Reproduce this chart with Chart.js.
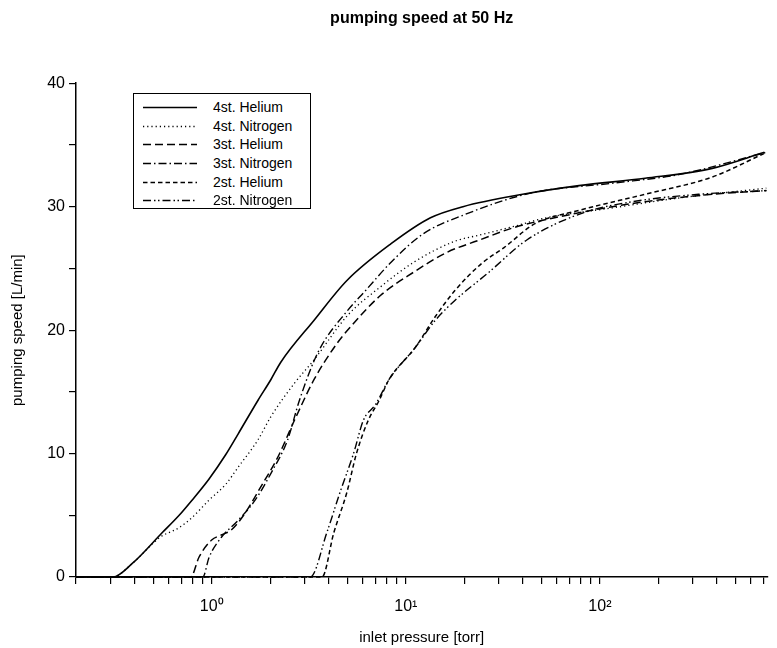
<!DOCTYPE html>
<html>
<head>
<meta charset="utf-8">
<script src="https://cdn.jsdelivr.net/npm/chart.js@4.4.1/dist/chart.umd.min.js"></script>
<style>
  body { margin: 0; background: #fff; }
  #wrap { position: relative; width: 777px; height: 648px; }
  #legend {
    position: absolute; left: 133px; top: 93px; width: 178px; height: 116px;
    border: 1.5px solid #000; background: #fff;
    font-family: "Liberation Sans", Arial, sans-serif; font-size: 14px; color: #000;
    padding-top: 4px; box-sizing: border-box;
  }
  .row { position: relative; height: 18.7px; line-height: 18.7px; }
  .row svg { position: absolute; left: 9px; top: 0; }
  .row span { position: absolute; left: 79px; top: 0; }
</style>
</head>
<body>
<div id="wrap">
  <canvas id="speedChart" width="777" height="648"></canvas>
  <div id="legend"></div>
</div>
<script>
// x range of the pressure axis (torr)
const xMin = 0.2;
const xMax = 729;

const seriesNames = ['4st. Helium', '4st. Nitrogen', '3st. Helium', '3st. Nitrogen', '2st. Helium', '2st. Nitrogen'];

// 4st Helium
const he4P = [0.2, 0.31, 0.39, 0.557, 0.68, 0.79, 0.965, 1.18, 1.37, 1.73, 2.02, 2.27, 3.37, 4.96, 8.4, 13.4, 19.7, 40, 78, 171, 379, 704];
const he4S = [0, 0, 1.1, 3.6, 5.0, 6.2, 7.9, 9.9, 11.6, 14.3, 16.0, 17.4, 20.8, 24.0, 27.0, 29.1, 30.0, 31.0, 31.7, 32.3, 33.1, 34.4];
// 4st Nitrogen
const n4P = [0.2, 0.31, 0.39, 0.54, 0.68, 0.79, 0.965, 1.18, 1.37, 1.73, 2.02, 2.67, 3.37, 5.02, 7.4, 11.0, 17.9, 24, 36, 53, 116, 255, 720];
const n4S = [0, 0, 1.1, 3.2, 4.0, 4.8, 6.2, 7.5, 8.9, 11.1, 13.0, 15.7, 17.6, 21.2, 23.5, 25.5, 27.2, 27.7, 28.4, 29.1, 29.9, 30.7, 31.5];
// 3st Helium
const he3P = [0.2, 0.78, 0.86, 1.0, 1.12, 1.26, 1.49, 1.79, 2.19, 2.67, 3.37, 4.41, 5.02, 7.4, 11.0, 16.3, 24, 36, 78, 171, 379, 720];
const he3S = [0, 0, 1.6, 3.0, 3.4, 3.8, 5.2, 7.3, 9.7, 12.7, 16.0, 18.9, 20.0, 22.8, 24.7, 26.3, 27.3, 28.3, 29.5, 30.4, 31.0, 31.3];
// 3st Nitrogen
const n3P = [0.2, 0.9, 0.97, 1.12, 1.37, 1.67, 2.02, 2.46, 2.83, 3.53, 5.02, 6.12, 8.4, 12.3, 19.7, 44, 116, 255, 720];
const n3S = [0, 0, 1.6, 3.2, 4.6, 6.2, 8.4, 11.1, 14.3, 18.2, 21.6, 23.1, 25.5, 27.8, 29.3, 31.1, 31.9, 32.6, 34.4];
// 2st Helium
const he2P = [0.2, 3.7, 4.26, 4.96, 5.57, 6.41, 7.29, 8.2, 11.2, 14.2, 17.9, 24.6, 32.2, 46, 78, 171, 379, 700];
const he2S = [0, 0, 3.6, 6.8, 10.0, 12.7, 14.3, 16.0, 18.6, 21.1, 23.2, 25.4, 26.7, 28.6, 29.7, 31.0, 32.4, 34.3];
// 2st Nitrogen
const n2P = [0.2, 3.22, 3.92, 4.57, 5.38, 6.05, 7.0, 8.2, 11.2, 14.2, 17.9, 26.4, 42, 82, 147, 322, 727];
const n2S = [0, 0, 3.6, 6.8, 10.0, 12.7, 14.0, 16.0, 18.6, 20.8, 22.4, 24.6, 27.3, 29.5, 30.4, 31.0, 31.3];

const yTicks = [0, 10, 20, 30, 40];

const pressures = [he4P, n4P, he3P, n3P, he2P, n2P];
const speeds = [he4S, n4S, he3S, n3S, he2S, n2S];
const dashes = [[], [1.2, 3], [8, 4], [8, 3, 1.5, 3], [4.5, 3], [8, 3, 1.5, 2.5, 1.5, 3]];
const widths = [1.6, 1.3, 1.5, 1.4, 1.5, 1.4];

const datasets = seriesNames.map((name, i) => ({
    label: name,
    data: pressures[i].map((p, j) => ({ x: p, y: speeds[i][j] })),
    borderColor: '#000',
    borderWidth: widths[i],
    borderDash: dashes[i],
    pointRadius: 0,
    fill: false,
    cubicInterpolationMode: 'monotone',
    clip: false
}));

const sup = { '0': '⁰', '1': '¹', '2': '²' };
const font = 'Liberation Sans, Arial, sans-serif';

new Chart(document.getElementById('speedChart'), {
    type: 'line',
    data: { datasets: datasets },
    options: {
        responsive: false,
        animation: false,
        layout: { padding: 0 },
        plugins: {
            legend: { display: false },
            tooltip: { enabled: false },
            title: {
                display: true,
                text: 'pumping speed at 50 Hz',
                fullSize: false,
                color: '#000',
                font: { family: font, size: 16, weight: 'bold' },
                padding: { top: 9, bottom: 55 }
            }
        },
        scales: {
            x: {
                type: 'logarithmic',
                min: xMin,
                max: xMax,
                bounds: 'data',
                afterBuildTicks: (axis) => {
                    const t = [];
                    for (let e = -1; e <= 2; e++) {
                        for (let k = 1; k <= 9; k++) {
                            const v = k * Math.pow(10, e);
                            if (v >= xMin - 1e-9 && v <= xMax) t.push({ value: v });
                        }
                    }
                    axis.ticks = t;
                },
                afterFit: (axis) => { axis.height = 71; },
                ticks: {
                    autoSkip: false,
                    maxRotation: 0,
                    color: '#000',
                    padding: 13,
                    font: { family: font, size: 16 },
                    callback: (v) => {
                        const e = Math.log10(v);
                        if (Math.abs(e - Math.round(e)) < 1e-9 && Math.round(e) >= 0) return '10' + sup[String(Math.round(e))];
                        return '';
                    }
                },
                grid: { drawOnChartArea: false, drawTicks: true, tickLength: 7, color: '#000', lineWidth: 1.2 },
                border: { display: true, color: '#000', width: 1.5 },
                title: {
                    display: true,
                    text: 'inlet pressure [torr]',
                    color: '#000',
                    font: { family: font, size: 15 },
                    padding: { top: 3, bottom: 1 }
                }
            },
            y: {
                min: 0,
                max: 40,
                afterFit: (axis) => { axis.width = 76; },
                ticks: {
                    stepSize: 5,
                    color: '#000',
                    padding: 4,
                    font: { family: font, size: 16 },
                    callback: (v) => yTicks.includes(v) ? String(v) : ''
                },
                grid: { drawOnChartArea: false, drawTicks: true, tickLength: 7, color: '#000', lineWidth: 1.2 },
                border: { display: true, color: '#000', width: 1.5 },
                title: {
                    display: true,
                    text: 'pumping speed [L/min]',
                    color: '#000',
                    font: { family: font, size: 15 },
                    padding: { top: 9, bottom: 0 }
                }
            }
        }
    }
});

// legend box, built from the same series
const legendEl = document.getElementById('legend');
seriesNames.forEach((name, i) => {
    const row = document.createElement('div');
    row.className = 'row';
    row.innerHTML = '<svg width="54" height="18.7"><line x1="0" y1="9.5" x2="54" y2="9.5" stroke="#000" stroke-width="' +
        widths[i] + '" stroke-dasharray="' + (dashes[i].length ? dashes[i].join(' ') : 'none') + '"/></svg><span>' + name + '</span>';
    legendEl.appendChild(row);
});
</script>
</body>
</html>
